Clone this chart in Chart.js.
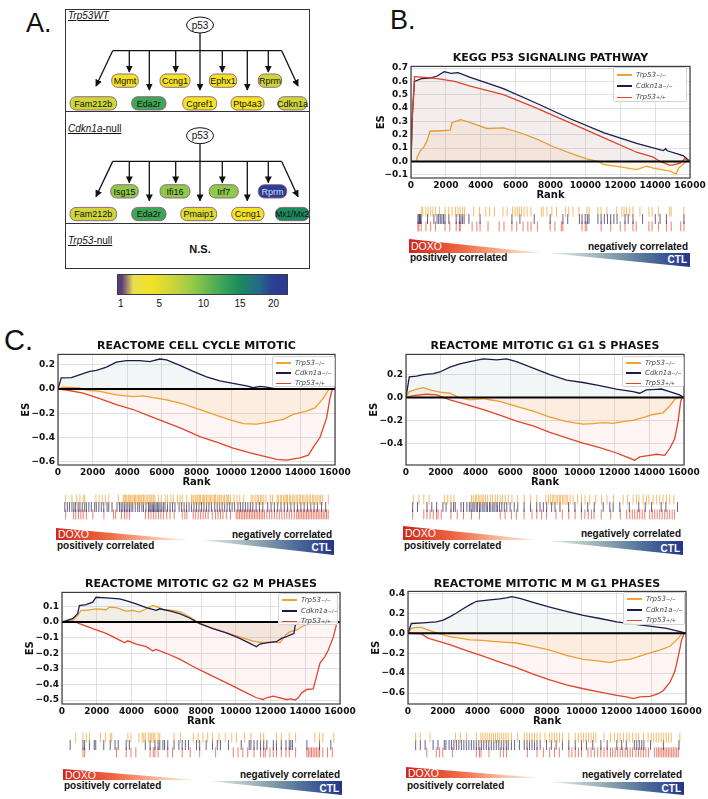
<!DOCTYPE html>
<html><head><meta charset="utf-8">
<script src="https://cdn.jsdelivr.net/npm/chart.js@4"></script>
<style>
body{margin:0;background:#fff;}
#page{position:relative;width:708px;height:799px;overflow:hidden;font-family:"Liberation Sans",Arial,sans-serif;color:#111;}
.plabel{position:absolute;font-size:27px;line-height:1;color:#111;}
.ctitle{position:absolute;font-family:"DejaVu Sans";font-weight:bold;font-size:11px;line-height:1;white-space:nowrap;transform:translate(-50%,-50%);color:#111;}
.legend{position:absolute;background:rgba(255,255,255,0.88);border:1px solid #d4d4d4;border-radius:2px;font-family:"DejaVu Sans";font-style:italic;font-size:7px;color:#444;box-sizing:border-box;}
.legrow{position:absolute;left:3px;height:8px;line-height:8px;white-space:nowrap;transform:translateY(-50%);display:flex;align-items:center;}
.legline{display:inline-block;width:15px;margin-right:4px;}
.legrow sup{font-size:5px;vertical-align:3px;line-height:0;}
.tri{position:absolute;}
.ttext{position:absolute;font-weight:bold;font-size:10px;white-space:nowrap;line-height:1;transform:translateY(-50%);}
.slabel{position:absolute;font-size:10px;line-height:1;text-decoration:underline;white-space:nowrap;}
.cbl{position:absolute;font-size:10px;line-height:1;transform:translate(-50%,-50%);}
</style></head>
<body><div id="page"></div>
<script>
// ---------------- DATA ----------------
const xTicks = [0,2000,4000,6000,8000,10000,12000,14000,16000];
const seriesNames = ['Trp53','Cdkn1a','Trp53'];
const seriesSups = ['\u2212/\u2212','\u2212/\u2212','+/+'];

// Panel B: KEGG P53 SIGNALING PATHWAY
const bTitle = 'KEGG P53 SIGNALING PATHWAY';
const bYTicks = [-0.1,0,0.1,0.2,0.3,0.4,0.5,0.6,0.7];
const bOrange = [[0,0],[300,0],[340,0.03],[530,0.08],[720,0.105],[900,0.15],[1100,0.228],[1490,0.228],[2250,0.235],[2350,0.29],[2830,0.313],[3200,0.3],[3970,0.264],[4350,0.247],[5300,0.252],[6260,0.215],[7220,0.167],[8170,0.11],[9130,0.062],[10080,0.02],[10850,-0.005],[11000,-0.022],[11990,-0.041],[12940,-0.061],[13510,-0.036],[13900,-0.05],[14850,-0.073],[15200,-0.095],[15350,-0.05],[15700,-0.01],[15800,0],[16000,0]];
const bNavy = [[0,0],[80,0.35],[200,0.6],[600,0.62],[1100,0.625],[1500,0.64],[1900,0.672],[2300,0.66],[2700,0.665],[3400,0.63],[5300,0.546],[7200,0.436],[9130,0.32],[11040,0.216],[12940,0.135],[14470,0.081],[14600,0.095],[14700,0.08],[15600,0.044],[16000,0]];
const bRed = [[0,0],[60,0.3],[200,0.635],[800,0.63],[1500,0.62],[2500,0.6],[3400,0.565],[5300,0.5],[7200,0.4],[9130,0.289],[11040,0.179],[12940,0.069],[13900,0.032],[14280,0],[14850,-0.029],[15050,-0.025],[15430,-0.012],[15700,0.02],[16000,0]];
const bOrangeHits = [250,340,530,670,820,950,1100,1350,1680,1900,2100,2300,2450,2580,2730,2860,3400,3740,4120,4350,4640,5150,5400,5730,5880,6010,6130,6260,6410,6600,6830,7450,7560,7790,8080,8360,8900,9090,9350,9700,10180,10310,10840,11030,11380,11950,12280,12410,12560,12750,12940,13360,13900,14090,14470,15140,15230,15990];
const bNavyHits = [57,115,153,210,248,630,1012,1203,1298,1394,1489,1584,1680,1909,2348,2539,2634,2730,2825,3112,3780,5689,6166,7025,7980,8743,9030,9736,9889,10080,10213,10309,10843,11034,11225,11416,11607,11798,11988,12466,12657,12943,13516,14280,14566,14947,15998];
const bRedHits = [57,115,248,535,821,1107,1680,1966,2348,2539,2596,3303,3589,3780,4257,4925,5212,5689,5975,6357,6643,6834,7216,7980,8266,8648,8743,9889,10080,10175,11034,11607,12180,12466,12943,13134,13898,14088,14470,14947,15234,15807,15998];

// Panel C1: REACTOME CELL CYCLE MITOTIC
const c1Title = 'REACTOME CELL CYCLE MITOTIC';
const c1YTicks = [-0.6,-0.4,-0.2,0,0.2];
const c1Navy = [[0,0],[190,0.092],[770,0.095],[1450,0.127],[1840,0.146],[2220,0.154],[2800,0.181],[3370,0.222],[3950,0.235],[4720,0.235],[5300,0.227],[5880,0.248],[6270,0.24],[7040,0.195],[7810,0.146],[8580,0.1],[9350,0.068],[10120,0.046],[10890,0.027],[11280,0.011],[11660,0.022],[12050,0.016],[12440,0.005],[12630,0],[16000,0]];
const c1Orange = [[0,0],[290,0.016],[1250,0.01],[1640,-0.008],[2410,-0.02],[3370,-0.048],[4340,-0.062],[4920,-0.057],[5500,-0.07],[6270,-0.089],[7230,-0.123],[8190,-0.169],[9160,-0.218],[10120,-0.263],[10700,-0.285],[11470,-0.29],[12050,-0.277],[13010,-0.25],[13590,-0.209],[14360,-0.183],[14850,-0.156],[15330,-0.075],[15620,-0.008],[15720,0],[16000,0]];
const c1Red = [[0,0],[480,-0.008],[1450,-0.034],[2410,-0.08],[3370,-0.129],[4340,-0.169],[5300,-0.223],[6270,-0.277],[7230,-0.331],[8190,-0.393],[9160,-0.438],[10120,-0.487],[11090,-0.527],[12050,-0.56],[12630,-0.581],[13200,-0.587],[13980,-0.568],[14460,-0.546],[14750,-0.479],[15140,-0.398],[15520,-0.236],[15710,-0.075],[15850,0],[16000,0]];
const c1OrangeHits = [100,480,770,960,1160,1250,1930,2120,2310,2510,2700,3280,3570,3640,3720,3790,3880,3940,4010,4100,4170,4260,4310,4400,4490,4540,4630,4700,4790,4840,4950,5040,5150,5240,5310,5400,5490,5700,5880,6110,6240,6460,6600,6850,7010,7140,7410,7700,7790,7840,7950,8030,8090,8190,8240,8350,8430,8490,8590,8640,8750,8830,8890,9000,9090,9140,9250,9360,9410,9500,9610,9690,9800,9890,9940,10050,10260,10440,10610,10850,11300,11410,11540,11660,11740,11860,11940,12060,12190,12460,12590,12860,12940,13060,13140,13260,13340,13430,13490,13610,13690,13810,13890,14010,14090,14210,14290,14410,14490,14610,14690,14810,14890,15010,15090,15210,15290,15410,15490,15610,15960];
const c1NavyHits = [50,200,330,480,600,700,850,960,1100,1250,1350,1500,1650,1850,1950,2100,2250,2400,2600,2700,2900,3200,3350,3450,3550,3650,3750,3850,3950,4050,4150,4300,4450,4550,4700,4800,4950,5100,5180,5250,5330,5400,5480,5560,5640,5720,5800,5900,6000,6100,6250,6400,6550,6700,6950,7100,7250,7400,7550,7700,7850,8000,8150,8300,8450,8600,8750,8900,9100,9250,9400,9550,9700,9850,10000,10150,10300,10500,10650,10800,10950,11100,11250,11400,11600,11800,12000,12300,12500,12700,12900,13100,13300,13500,13700,13900,14100,14300,14500,14700,14900,15100,15300,15550,15800];
const c1RedHits = [100,580,710,870,1020,1160,1350,1740,2410,2990,3120,3470,3660,3800,3950,4920,5100,5250,5400,5550,5700,5850,6000,6200,6400,6650,7140,7300,7420,7800,7950,8100,8250,8400,8550,8700,8950,9150,9300,9450,9600,9800,10050,10400,10500,10600,10700,10800,10900,11000,11100,11200,11300,11400,11500,11600,11700,11800,11900,12000,12100,12250,12400,12550,12700,12850,13000,13150,13300,13450,13600,13750,13900,14050,14150,14250,14350,14450,14550,14650,14750,14850,14950,15050,15150,15250,15350,15450,15550,15650,15750,15850,15950];

// Panel C2: REACTOME MITOTIC G1 G1 S PHASES
const c2Title = 'REACTOME MITOTIC G1 G1 S PHASES';
const c2YTicks = [-0.4,-0.2,0,0.2];
const c2Navy = [[0,0],[190,0.18],[610,0.186],[1000,0.2],[1570,0.209],[1950,0.223],[2530,0.266],[3100,0.294],[3680,0.314],[4450,0.337],[5210,0.329],[5790,0.337],[6360,0.314],[7320,0.257],[8280,0.2],[9240,0.151],[10190,0.131],[11150,0.103],[12110,0.074],[13070,0.051],[13450,0.037],[13830,0.066],[14410,0.071],[14700,0.074],[15170,0.051],[15750,0.023],[16000,0]];
const c2Orange = [[0,0],[190,0.051],[610,0.074],[1000,0.086],[1380,0.066],[1950,0.046],[2530,0.037],[2910,0.009],[3300,-0.011],[3680,-0.02],[4450,-0.011],[4830,-0.02],[5400,-0.034],[6360,-0.077],[7320,-0.12],[8280,-0.171],[9240,-0.211],[10190,-0.234],[10770,-0.229],[11340,-0.22],[11920,-0.226],[12490,-0.211],[13070,-0.2],[13640,-0.177],[14220,-0.149],[14790,-0.134],[15170,-0.077],[15460,-0.02],[15650,0],[16000,0]];
const c2Red = [[0,0],[420,0.017],[1190,0.029],[1760,0.023],[2150,0],[2530,-0.02],[3490,-0.063],[4450,-0.106],[5400,-0.154],[6360,-0.206],[7320,-0.249],[8280,-0.306],[9240,-0.354],[10190,-0.4],[11150,-0.44],[12110,-0.486],[12680,-0.52],[13160,-0.549],[13450,-0.52],[14030,-0.506],[14410,-0.497],[14890,-0.506],[15170,-0.449],[15460,-0.363],[15650,-0.22],[15810,-0.034],[15900,0],[16000,0]];
const c2OrangeHits = [80,420,710,1030,1950,2150,2340,2530,3580,3690,3810,3890,4010,4090,4210,4290,4420,4550,4710,4840,5010,5140,5310,5440,5610,5790,6010,6350,6750,7130,7510,8050,8210,8340,8460,8540,8660,8740,8860,8940,9060,9140,9260,9340,9510,9690,9960,10190,10410,10690,11050,11400,11730,12120,12700,12970,13300,13500,13650,13900,14100,14250,14500,14700,14900,15100,15300,15500,15750];
const c2NavyHits = [40,330,900,1190,1480,1860,2050,2350,2500,2600,2950,3100,3300,3450,3550,3660,3740,3860,3940,4060,4140,4260,4340,4460,4540,4660,4740,4860,4940,5060,5140,5260,5400,5550,5700,5900,6150,6360,6740,7130,7500,7700,7900,8100,8400,8600,8900,9420,9800,10190,10570,10960,11500,11900,12100,12500,13070,13640,14030,14410,14990,15270,15970];
const c2RedHits = [40,710,900,1090,1280,1480,1570,1760,2340,2720,3100,3580,4060,5310,5600,5980,6280,6740,7220,7510,7800,8090,8660,9040,9430,9810,10190,10400,10600,10800,10950,11380,11950,12530,12910,13100,13250,13400,13550,13700,13850,14000,14300,14450,14600,14750,14900,15050,15200,15350,15500,15650,15800];

// Panel C3: REACTOME MITOTIC G2 G2 M PHASES
const c3Title = 'REACTOME MITOTIC G2 G2 M PHASES';
const c3YTicks = [-0.5,-0.4,-0.3,-0.2,-0.1,0,0.1];
const c3Navy = [[0,0],[615,0.022],[900,0.053],[1000,0.106],[1380,0.111],[1770,0.127],[1960,0.159],[2540,0.155],[3310,0.149],[3690,0.138],[4270,0.117],[4850,0.092],[5420,0.075],[5620,0.085],[6190,0.071],[6770,0.054],[7350,0.026],[7920,-0.01],[8690,-0.042],[9460,-0.07],[10230,-0.105],[10810,-0.137],[11190,-0.158],[11380,-0.141],[11770,-0.133],[12350,-0.126],[12630,-0.105],[12920,-0.094],[13110,-0.084],[13350,-0.074],[13420,-0.021],[13700,0],[16000,0]];
const c3Orange = [[0,0],[615,0.011],[900,0.043],[1100,0.075],[1380,0.075],[1960,0.085],[2540,0.079],[2730,0.096],[3120,0.092],[3690,0.07],[4080,0.075],[4460,0.064],[4850,0.085],[5230,0.106],[5520,0.096],[5810,0.081],[6380,0.075],[6870,0.064],[7350,0.032],[7920,-0.006],[8690,-0.042],[9460,-0.07],[10230,-0.095],[11000,-0.122],[11580,-0.133],[12150,-0.126],[12540,-0.133],[12730,-0.105],[12920,-0.078],[13110,-0.063],[13310,-0.057],[13500,-0.052],[13800,-0.03],[14200,-0.01],[14500,0],[16000,0]];
const c3Red = [[0,0],[810,0],[1000,-0.01],[1770,-0.042],[2540,-0.073],[3120,-0.105],[3600,-0.133],[3790,-0.12],[4270,-0.141],[4850,-0.158],[5230,-0.185],[5420,-0.175],[6000,-0.2],[6770,-0.238],[7540,-0.285],[8310,-0.327],[9080,-0.369],[9850,-0.411],[10620,-0.454],[11190,-0.485],[11580,-0.496],[11770,-0.485],[12150,-0.475],[12540,-0.485],[12920,-0.496],[13210,-0.492],[13400,-0.5],[13600,-0.485],[13790,-0.454],[14080,-0.432],[14460,-0.428],[14650,-0.348],[14850,-0.263],[15130,-0.221],[15330,-0.179],[15620,-0.095],[15810,-0.01],[16000,0]];
const c3OrangeHits = [460,900,1100,1290,1960,2250,2540,2630,3600,3790,4270,4460,4560,4650,4850,4950,5040,5140,5230,5420,5520,6380,6770,7540,7830,8120,8400,8690,9080,9460,9850,10130,10620,11000,11580,11770,12540,12830,13310,13690,14850,15130,15330,15990];
const c3NavyHits = [130,900,1000,1290,1580,1670,2150,2540,2830,3020,3500,3690,4650,4940,5230,5420,5520,5710,5810,6000,6380,6670,6870,7060,7250,7730,7920,8310,8690,8980,9170,9650,10420,10900,11000,11190,11380,11580,11770,11960,12350,12540,12830,13110,13310,13400,13500,14370,15130,15810];
const c3RedHits = [900,1000,2920,3500,3790,4080,4940,5130,5230,5420,6000,6290,6870,7350,7920,8880,9940,10230,10520,10810,11190,11580,11770,11870,12150,12350,12540,12830,13110,13310,13690,14370,14460,14560,14650,14750,14850,14940,15040,15130,15330,15610,15900];

// Panel C4: REACTOME MITOTIC M M G1 PHASES
const c4Title = 'REACTOME MITOTIC M M G1 PHASES';
const c4YTicks = [-0.6,-0.4,-0.2,0,0.2,0.4];
const c4Navy = [[0,0],[190,0.098],[865,0.105],[1630,0.115],[2020,0.131],[2400,0.164],[2790,0.203],[3170,0.246],[3550,0.285],[3940,0.321],[4710,0.334],[5280,0.344],[5670,0.354],[5960,0.367],[6440,0.351],[7200,0.311],[8160,0.262],[9120,0.22],[10090,0.18],[11050,0.148],[12010,0.115],[12970,0.092],[13930,0.072],[14890,0.049],[15660,0.016],[16000,0]];
const c4Orange = [[0,0],[190,0.049],[480,0.059],[770,0.059],[1060,0.039],[1440,0.016],[1830,-0.007],[2400,-0.033],[2980,-0.049],[3550,-0.066],[4320,-0.072],[4900,-0.082],[5470,-0.089],[6240,-0.098],[7200,-0.131],[8160,-0.17],[9120,-0.223],[10090,-0.262],[11050,-0.279],[11620,-0.295],[12200,-0.269],[12770,-0.262],[13350,-0.23],[13930,-0.197],[14500,-0.17],[15080,-0.131],[15560,-0.049],[15750,-0.007],[15850,0],[16000,0]];
const c4Red = [[0,0],[770,-0.007],[1150,-0.049],[1340,-0.059],[2400,-0.115],[3360,-0.174],[4320,-0.23],[5280,-0.289],[6240,-0.344],[7200,-0.41],[8160,-0.469],[9120,-0.518],[10090,-0.557],[11050,-0.59],[12010,-0.623],[12580,-0.639],[12970,-0.656],[13350,-0.639],[13930,-0.633],[14410,-0.607],[14700,-0.574],[15080,-0.492],[15370,-0.377],[15560,-0.23],[15750,-0.066],[15900,0],[16000,0]];
const c4OrangeHits = [100,380,960,2500,2790,3170,3750,4030,4150,4280,4400,4530,4650,4780,4900,5030,5150,5280,5400,5530,5670,5860,6240,6630,6800,6950,7100,7250,7400,7590,7880,8160,8300,8450,8600,8750,8930,9310,9700,9890,10050,10200,10350,10500,10650,10800,10940,11430,11820,12050,12250,12400,12600,12800,12950,13150,13350,13510,13800,14080,14270,14420,14570,14720,14870,15020,15170,15320,15470,15990];
const c4NavyHits = [100,380,670,1150,1440,1820,1920,2110,2250,2400,2550,2700,2850,3000,3150,3300,3450,3600,3750,3900,4050,4200,4350,4500,4650,4800,4950,5100,5250,5400,5550,5670,5860,6050,6340,6630,6800,6950,7100,7250,7400,7590,7970,8260,8550,8930,9310,9700,10080,10370,10750,11240,11620,12200,12490,12770,13250,13400,13550,13700,13830,14230,15000,15940];
const c4RedHits = [770,1340,1540,1730,2310,3750,3940,4030,4510,5190,5380,5570,6820,7400,7780,8160,8450,8740,9320,9500,9700,9890,10080,10470,10650,10850,11050,11240,11430,11620,11820,11950,12100,12250,12400,12550,12700,12850,13000,13150,13350,13500,13650,13800,13950,14100,14460,14600,14700,14800,14900,15000,15100,15200,15300,15400,15500,15600,15700,15800,15900];

// Panel A: gene network
const wtRow1 = ['Mgmt','Ccng1','Ephx1','Rprm'];
const wtRow1Val = [4,4,4,6.5];
const wtRow2 = ['Fam212b','Eda2r','Cgref1','Ptp4a3','Cdkn1a'];
const wtRow2Val = [6.5,12.5,4,4,6.5];
const nullRow1 = ['Isg15','Ifi16','Irf7','Rprm'];
const nullRow1Val = [9,9,9,20];
const nullRow2 = ['Fam212b','Eda2r','Pmaip1','Ccng1','Mx1/Mx2'];
const nullRow2Val = [6.5,12.5,5.5,4,15];
const cbTickLabels = ['1','5','10','15','20'];
const cbTickValues = [1,5,10,15,20];

// ---------------- STYLE ----------------
const ORANGE='#f0a32f', NAVY='#1b1b4d', RED='#e0452c';
const ORANGE_FILL='rgba(245,165,60,0.10)', NAVY_FILL='rgba(100,140,150,0.08)', RED_FILL='rgba(230,80,60,0.06)';
const cmapStops = [[1,'#5a3b7c'],[2.2,'#e8dc52'],[4,'#f4e324'],[6.5,'#cdd53a'],[9,'#8fc84b'],[12.5,'#3ea656'],[15,'#1d8a5c'],[18,'#22698a'],[20,'#2b3f94'],[22,'#2b3a8e']];
const cbTickX = [120.7,159.3,203.5,240,273.5];

const page = document.getElementById('page');
function el(tag, css, html, cls){const e=document.createElement(tag); if(cls) e.className=cls; e.style.cssText=css||''; if(html!==undefined) e.innerHTML=html; page.appendChild(e); return e;}

function hex2rgb(h){return [parseInt(h.slice(1,3),16),parseInt(h.slice(3,5),16),parseInt(h.slice(5,7),16)];}
function cmap(v){
  for(let i=0;i<cmapStops.length-1;i++){
    const [a,ca]=cmapStops[i],[b,cb]=cmapStops[i+1];
    if(v<=b){const t=Math.max(0,(v-a)/(b-a)); const A=hex2rgb(ca),B=hex2rgb(cb);
      return 'rgb('+A.map((x,k)=>Math.round(x+(B[k]-x)*t)).join(',')+')';}
  }
  return cmapStops[cmapStops.length-1][1];
}

// ---------------- PANEL LABELS ----------------
el('div','left:26px;top:9.5px;','A.','plabel');
el('div','left:390px;top:6.5px;','B.','plabel');
el('div','left:4px;top:326px;font-size:29px;','C.','plabel');

// ---------------- PANEL A ----------------
(function(){
  let s = '<svg width="708" height="320" style="position:absolute;left:0;top:0" xmlns="http://www.w3.org/2000/svg">';
  s += '<defs><marker id="ah" viewBox="0 0 10 10" refX="9" refY="5" markerWidth="7" markerHeight="7" markerUnits="userSpaceOnUse" orient="auto"><path d="M0,0L10,5L0,10z" fill="#111"/></marker></defs>';
  s += '<rect x="65.5" y="9.5" width="244" height="259" fill="none" stroke="#333" stroke-width="1"/>';
  s += '<line x1="65" y1="111.5" x2="310" y2="111.5" stroke="#333" stroke-width="1"/>';
  s += '<line x1="65" y1="223.5" x2="310" y2="223.5" stroke="#333" stroke-width="1"/>';
  const row1X = [[111.7,138.3],[160,190],[209.3,236.7],[258.3,281.7]];
  const row2X = [[70,116.7],[131.7,166],[182.7,216.7],[231,264],[278,307]];
  const row1Xn = [[110.7,138.3],[160,190],[209.3,238.3],[258.3,286.7]];
  const row2Xn = [[70,116.7],[131.7,166],[180.7,216.7],[231.7,264],[275.5,309]];
  function section(dy, r1, r1v, r2, r2v, x1s, x2s){
    const L='stroke="#111" stroke-width="1.3"';
    s += `<line x1="200" y1="${33+dy}" x2="200" y2="${90+dy}" ${L} marker-end="url(#ah)"/>`;
    s += `<line x1="112.7" y1="${50.7+dy}" x2="281.7" y2="${50.7+dy}" ${L}/>`;
    [129.3,175.7,222.3,268.3].forEach(x=>{s += `<line x1="${x}" y1="${50.7+dy}" x2="${x}" y2="${72+dy}" ${L} marker-end="url(#ah)"/>`;});
    [149.3,247.3].forEach(x=>{s += `<line x1="${x}" y1="${50.7+dy}" x2="${x}" y2="${90+dy}" ${L} marker-end="url(#ah)"/>`;});
    s += `<line x1="112.7" y1="${50.7+dy}" x2="96" y2="${86+dy}" ${L} marker-end="url(#ah)"/>`;
    s += `<line x1="281.7" y1="${50.7+dy}" x2="298" y2="${86+dy}" ${L} marker-end="url(#ah)"/>`;
    s += `<ellipse cx="200" cy="${25+dy}" rx="13.5" ry="8" fill="#fff" stroke="#111" stroke-width="1"/>`;
    s += `<text x="200" y="${28.5+dy}" font-family="Liberation Sans" font-size="10" text-anchor="middle" fill="#111">p53</text>`;
    function node(name,val,x1,x2,y){
      const fill=cmap(val); const dark = val>=18;
      const fs = name.length>6 && (x2-x1)<36 ? 8.3 : 9;
      s += `<rect x="${x1}" y="${y}" width="${x2-x1}" height="13.3" rx="6" ry="6" fill="${fill}" stroke="#8a5f78" stroke-width="0.9"/>`;
      s += `<text x="${(x1+x2)/2}" y="${y+9.9}" font-family="Liberation Sans" font-size="${fs}" text-anchor="middle" fill="${dark?'#d8def0':'#111'}">${name}</text>`;
    }
    r1.forEach((n,i)=>node(n,r1v[i],x1s[i][0],x1s[i][1],74+dy));
    r2.forEach((n,i)=>node(n,r2v[i],x2s[i][0],x2s[i][1],96.7+dy));
  }
  section(0, wtRow1, wtRow1Val, wtRow2, wtRow2Val, row1X, row2X);
  section(110.7, nullRow1, nullRow1Val, nullRow2, nullRow2Val, row1Xn, row2Xn);
  s += '<text x="200" y="253" font-family="Liberation Sans" font-weight="bold" font-size="11" text-anchor="middle" fill="#111">N.S.</text>';
  s += '</svg>';
  el('div','position:absolute;left:0;top:0;',s);
  el('div','left:68px;top:11px;','<i>Trp53WT</i>','slabel');
  el('div','left:68px;top:123.5px;','<i>Cdkn1a</i>-null','slabel');
  el('div','left:68px;top:235.5px;','<i>Trp53</i>-null','slabel');
  // colorbar
  const cbL=117, cbR=288;
  function vx(v){
    const V=cbTickValues, X=cbTickX;
    if(v<=V[0]) return X[0]+(v-V[0])*(X[1]-X[0])/(V[1]-V[0]);
    for(let i=0;i<V.length-1;i++) if(v<=V[i+1]) return X[i]+(v-V[i])*(X[i+1]-X[i])/(V[i+1]-V[i]);
    const n=V.length-1; return X[n]+(v-V[n])*(X[n]-X[n-1])/(V[n]-V[n-1]);
  }
  const stops = cmapStops.map(([v,c])=>`${c} ${(((vx(v)-cbL)/(cbR-cbL))*100).toFixed(1)}%`).join(',');
  el('div',`position:absolute;left:${cbL}px;top:274px;width:${cbR-cbL}px;height:21px;box-sizing:border-box;border:1px solid #3a3a4a;background:linear-gradient(to right,${stops});`);
  cbTickLabels.forEach((t,i)=>el('div',`left:${cbTickX[i]}px;top:304px;`,t,'cbl'));
})();

// ---------------- ES CHARTS ----------------
const fontTick = {family:'DejaVu Sans', weight:'bold', size:9};
const fontAxis = {family:'DejaVu Sans', weight:'bold', size:10};
function fmtY(v){const s=(Math.abs(v)<1e-9?0:v).toFixed(1); return s.replace('-','\u2212');}
const framePlugin = {
  id:'frame',
  afterDatasetsDraw(chart){
    const {ctx, chartArea:a, scales:{y}} = chart;
    ctx.save();
    const y0 = y.getPixelForValue(0);
    ctx.strokeStyle='#000'; ctx.lineWidth=2;
    ctx.beginPath(); ctx.moveTo(a.left,y0); ctx.lineTo(a.right,y0); ctx.stroke();
    ctx.strokeStyle='#3c3c3c'; ctx.lineWidth=1.2;
    ctx.strokeRect(a.left, a.top, a.right-a.left, a.bottom-a.top);
    ctx.restore();
  }
};
function pts(arr){return arr.map(p=>({x:p[0],y:p[1]}));}

function makeES(c){
  const padT=6, padR=18, xH=23;
  const left=c.L-c.yW, top=c.T-padT;
  const w=c.yW+(c.R-c.L)+padR, h=padT+(c.B-c.T)+xH;
  const cv=document.createElement('canvas');
  cv.width=w; cv.height=h;
  cv.style.cssText=`position:absolute;left:${left}px;top:${top}px;width:${w}px;height:${h}px;`;
  page.appendChild(cv);
  new Chart(cv,{
    type:'line',
    data:{datasets:[
      {label:'red', data:pts(c.red), borderColor:RED, backgroundColor:RED_FILL, fill:'origin', borderWidth:1.3, pointRadius:0, tension:0},
      {label:'navy', data:pts(c.navy), borderColor:NAVY, backgroundColor:NAVY_FILL, fill:'origin', borderWidth:1.3, pointRadius:0, tension:0},
      {label:'orange', data:pts(c.orange), borderColor:ORANGE, backgroundColor:ORANGE_FILL, fill:'origin', borderWidth:1.3, pointRadius:0, tension:0}
    ]},
    options:{
      responsive:false, animation:false, events:[], devicePixelRatio:1,
      layout:{padding:{top:padT,right:padR,left:0,bottom:0}},
      plugins:{legend:{display:false},tooltip:{enabled:false},title:{display:false}},
      scales:{
        x:{type:'linear', min:0, max:16000,
          afterBuildTicks:s=>{s.ticks=xTicks.map(v=>({value:v}));},
          afterFit:s=>{s.height=xH;},
          ticks:{font:fontTick,color:'#111',padding:2,maxRotation:0,autoSkip:false,callback:v=>String(v)},
          grid:{color:'#d9d9d9',lineWidth:0.8,drawTicks:false},
          border:{display:false},
          title:{display:true,text:'Rank',font:fontAxis,color:'#111',padding:{top:0,bottom:0}}},
        y:{type:'linear', min:c.ymin, max:c.ymax,
          afterBuildTicks:s=>{s.ticks=c.yTicks.map(v=>({value:v}));},
          afterFit:s=>{s.width=c.yW;},
          ticks:{font:fontTick,color:'#111',padding:3,autoSkip:false,callback:v=>fmtY(v)},
          grid:{color:'#d9d9d9',lineWidth:0.8,drawTicks:false},
          border:{display:false},
          title:{display:true,text:'ES',font:fontAxis,color:'#111',padding:{top:0,bottom:0}}}
      }
    },
    plugins:[framePlugin]
  });
  el('div',`left:${(c.L+c.R)/2}px;top:${c.titleY}px;`,c.title,'ctitle');
  const lg=c.leg;
  const legColors=[ORANGE,NAVY,RED], legW=[2,2,1];
  let html='';
  seriesNames.forEach((n,i)=>{
    html+=`<div class="legrow" style="top:${lg.r0+i*lg.dr}px"><span class="legline" style="height:${legW[i]}px;background:${legColors[i]}"></span>${n}<sup>${seriesSups[i]}</sup></div>`;
  });
  el('div',`left:${lg.x}px;top:${lg.y}px;width:${lg.w}px;height:${lg.h}px;`,html,'legend');
  makeBar(c);
  const t=c.tri;
  el('div',`left:${t.rx}px;top:${t.ry}px;width:${t.rw}px;height:${t.rh}px;clip-path:polygon(0 0,0 100%,100% 100%);background:linear-gradient(to right,#d0261b,#ef6a48 40%,#f9c3a6 75%,#fdeee4);`,'','tri');
  el('div',`left:${t.bx}px;top:${t.by}px;width:${t.bw}px;height:${t.bh}px;clip-path:polygon(0 0,100% 0,100% 100%);background:linear-gradient(to right,#e8f0ec,#9fb6b8 35%,#50709a 70%,#23358a);`,'','tri');
  el('div',`left:${t.rx+2}px;top:${t.doxoY}px;color:#fff;font-weight:normal;font-size:10.5px;`,'DOXO','ttext');
  el('div',`left:${t.rx+1}px;top:${t.posY}px;`,'positively correlated','ttext');
  el('div',`right:${708-(t.bx+t.bw)+2}px;top:${t.negY}px;`,'negatively correlated','ttext');
  el('div',`right:${708-(t.bx+t.bw)+3}px;top:${t.ctlY}px;color:#fff;`,'CTL','ttext');
}

function makeBar(c){
  const w=c.R-c.L, h=34;
  const cv=document.createElement('canvas');
  cv.width=w; cv.height=h;
  cv.style.cssText=`position:absolute;left:${c.L}px;top:${c.barTop}px;width:${w}px;height:${h}px;`;
  page.appendChild(cv);
  const ds=(hits,yv,col)=>({data:hits.map(r=>({x:r,y:yv})),pointStyle:'line',pointRotation:90,pointRadius:5,pointBorderWidth:1,pointBorderColor:col,borderColor:col,backgroundColor:col,showLine:false,clip:false});
  new Chart(cv,{
    type:'scatter',
    data:{datasets:[ds(c.oh,2.5,'rgba(236,160,50,0.7)'),ds(c.nh,1.5,'rgba(28,28,88,0.68)'),ds(c.rh,0.5,'rgba(222,70,45,0.68)')]},
    options:{responsive:false,animation:false,events:[],devicePixelRatio:1,layout:{padding:0},
      plugins:{legend:{display:false},tooltip:{enabled:false}},
      scales:{x:{type:'linear',min:0,max:16000,display:false},y:{type:'linear',min:0,max:3,display:false}}}
  });
}

makeES({L:411,R:690,T:64,B:178,yW:36,ymin:-0.124,ymax:0.712,yTicks:bYTicks,title:bTitle,titleY:57,
  orange:bOrange,navy:bNavy,red:bRed,oh:bOrangeHits,nh:bNavyHits,rh:bRedHits,barTop:202,
  leg:{x:613,y:67,w:74,h:35,r0:7,dr:11},
  tri:{rx:409,ry:239,rw:136,rh:14,bx:548,by:253,bw:142,bh:14,doxoY:246,posY:258,negY:246.5,ctlY:259.5}});
makeES({L:58,R:335,T:352,B:465,yW:38,ymin:-0.627,ymax:0.286,yTicks:c1YTicks,title:c1Title,titleY:345,
  orange:c1Orange,navy:c1Navy,red:c1Red,oh:c1OrangeHits,nh:c1NavyHits,rh:c1RedHits,barTop:490,
  leg:{x:272,y:356,w:63,h:31,r0:6,dr:10},
  tri:{rx:56,ry:528,rw:134,rh:12,bx:200,by:540,bw:134,bh:15,doxoY:534,posY:545.5,negY:535,ctlY:548}});
makeES({L:406,R:684,T:352,B:465,yW:38,ymin:-0.591,ymax:0.377,yTicks:c2YTicks,title:c2Title,titleY:345,
  orange:c2Orange,navy:c2Navy,red:c2Red,oh:c2OrangeHits,nh:c2NavyHits,rh:c2RedHits,barTop:490,
  leg:{x:622,y:356,w:62,h:31,r0:6,dr:10},
  tri:{rx:403,ry:526,rw:135,rh:14,bx:548,by:541,bw:135,bh:14,doxoY:532.5,posY:545.5,negY:534,ctlY:548.5}});
makeES({L:62,R:340,T:590,B:704,yW:38,ymin:-0.525,ymax:0.19,yTicks:c3YTicks,title:c3Title,titleY:583,
  orange:c3Orange,navy:c3Navy,red:c3Red,oh:c3OrangeHits,nh:c3NavyHits,rh:c3RedHits,barTop:728,
  leg:{x:278,y:593,w:60,h:32,r0:6,dr:10.5},
  tri:{rx:63,ry:769,rw:134,rh:11,bx:208,by:781,bw:134,bh:14,doxoY:774.5,posY:785.5,negY:775,ctlY:788.5}});
makeES({L:408,R:686,T:589,B:704,yW:38,ymin:-0.71,ymax:0.42,yTicks:c4YTicks,title:c4Title,titleY:583,
  orange:c4Orange,navy:c4Navy,red:c4Red,oh:c4OrangeHits,nh:c4NavyHits,rh:c4RedHits,barTop:728,
  leg:{x:623,y:592,w:62,h:33,r0:6,dr:10.5},
  tri:{rx:406,ry:767,rw:134,rh:11,bx:550,by:782,bw:134,bh:13,doxoY:773,posY:785.5,negY:775,ctlY:788.5}});
</script>
</body></html>
